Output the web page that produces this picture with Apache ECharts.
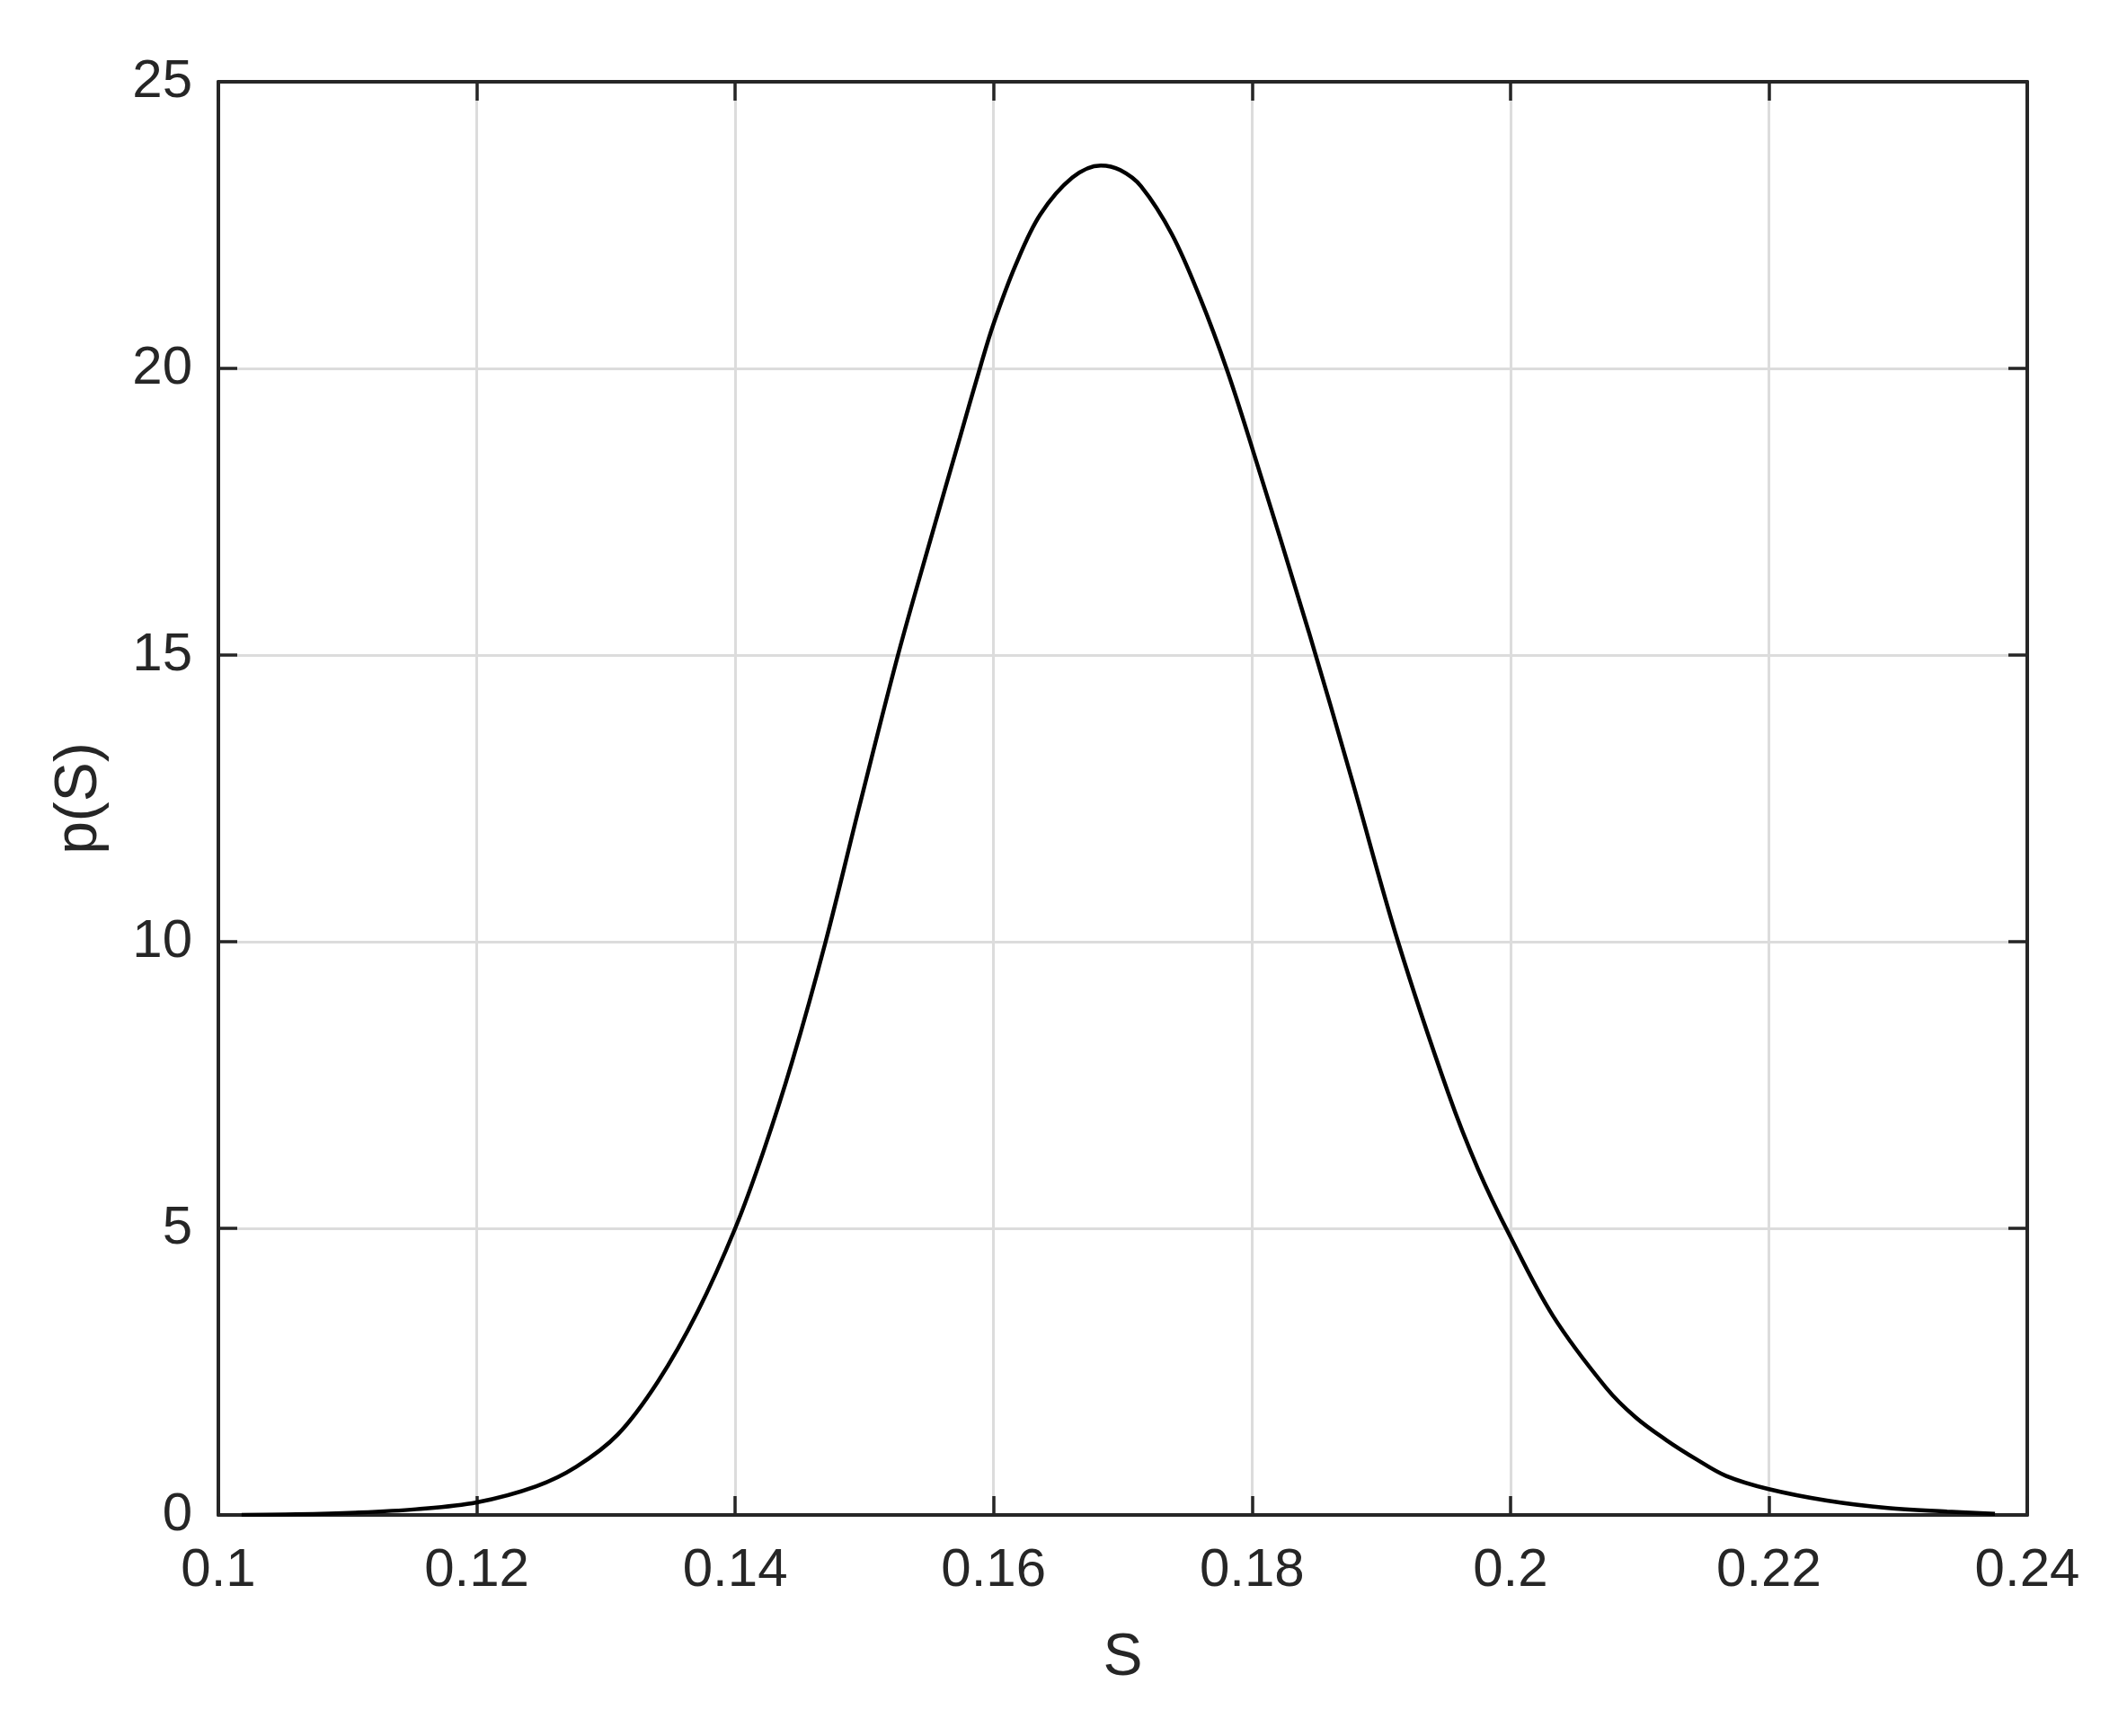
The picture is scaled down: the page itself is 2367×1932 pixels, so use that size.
<!DOCTYPE html>
<html>
<head>
<meta charset="utf-8">
<title>p(S)</title>
<script src="https://cdn.jsdelivr.net/npm/echarts@6/dist/echarts.min.js"></script>
<style>
  html, body { margin: 0; padding: 0; background: #fff; }
  #main { width: 2367px; height: 1932px; }
</style>
</head>
<body>
<div id="main"></div>
<script>
// values
var sValues = [0.1018, 0.1060, 0.1106, 0.1153, 0.1200, 0.1246, 0.1277, 0.1309, 0.1340, 0.1371,
               0.1400, 0.1422, 0.1444, 0.1470, 0.1496, 0.1526, 0.1551, 0.1574, 0.1590, 0.1600,
               0.1617, 0.1636, 0.1661, 0.1683, 0.1698, 0.1714, 0.1738, 0.1760, 0.1781, 0.1800,
               0.1844, 0.1877, 0.1913, 0.1952, 0.1975, 0.2000, 0.2033, 0.2074, 0.2097, 0.2121,
               0.2144, 0.2167, 0.2200, 0.2245, 0.2292, 0.2338, 0.2375];
var pValues = [0.00, 0.01, 0.04, 0.10, 0.22, 0.50, 0.84, 1.40, 2.32, 3.55,
               5.00, 6.35, 7.90, 10.0, 12.35, 15.0, 17.0, 18.80, 20.05, 20.78,
               21.80, 22.68, 23.33, 23.54, 23.46, 23.18, 22.34, 21.22, 19.95, 18.62,
               15.40, 12.85, 10.0, 7.35, 6.03, 4.85, 3.47, 2.22, 1.70, 1.30,
               0.97, 0.68, 0.45, 0.25, 0.12, 0.06, 0.02];
var xTicks = [0.1, 0.12, 0.14, 0.16, 0.18, 0.2, 0.22, 0.24];
var yTicks = [0, 5, 10, 15, 20, 25];

var txt = '#262626';
var font = 'Liberation Sans, Arial, Helvetica, sans-serif';

var curve = [];
for (var i = 0; i < sValues.length; i++) {
    curve.push([sValues[i], pValues[i]]);
}

function boxAxis(extra) {
    var a = {
        type: 'value',
        axisLine: { show: true, onZero: false, lineStyle: { color: txt, width: 4 } },
        axisTick: { show: true, inside: true, length: 21, lineStyle: { color: txt, width: 3.5 } },
        splitLine: { show: false },
        axisLabel: { show: false }
    };
    for (var k in extra) a[k] = extra[k];
    return a;
}

var chart = echarts.init(document.getElementById('main'));
chart.setOption({
    backgroundColor: '#fff',
    animation: false,
    grid: { left: 243, right: 111, top: 91, bottom: 246, containLabel: false },
    xAxis: [
        boxAxis({
            min: xTicks[0], max: xTicks[xTicks.length - 1], interval: 0.02,
            position: 'bottom',
            name: 'S', nameLocation: 'middle', nameGap: 127,
            nameTextStyle: { color: txt, fontSize: 66, fontFamily: font },
            splitLine: { show: true, lineStyle: { color: '#dcdcdc', width: 3 } },
            axisLabel: {
                show: true, color: txt, fontSize: 60, fontFamily: font, margin: 32,
                formatter: function (v) { return String(+v.toFixed(2)); }
            }
        }),
        boxAxis({ min: xTicks[0], max: xTicks[xTicks.length - 1], interval: 0.02, position: 'top' })
    ],
    yAxis: [
        boxAxis({
            min: yTicks[0], max: yTicks[yTicks.length - 1], interval: 5,
            position: 'left',
            name: 'p(S)', nameLocation: 'middle', nameGap: 121,
            nameTextStyle: { color: txt, fontSize: 66, fontFamily: font },
            splitLine: { show: true, lineStyle: { color: '#dcdcdc', width: 3 } },
            axisLabel: { show: true, color: txt, fontSize: 60, fontFamily: font, margin: 29 }
        }),
        boxAxis({ min: yTicks[0], max: yTicks[yTicks.length - 1], interval: 5, position: 'right' })
    ],
    series: [{
        type: 'line',
        data: curve,
        smooth: 0.35,
        showSymbol: false,
        lineStyle: { color: '#000', width: 4.5 },
        z: 5
    }]
});
</script>
</body>
</html>
